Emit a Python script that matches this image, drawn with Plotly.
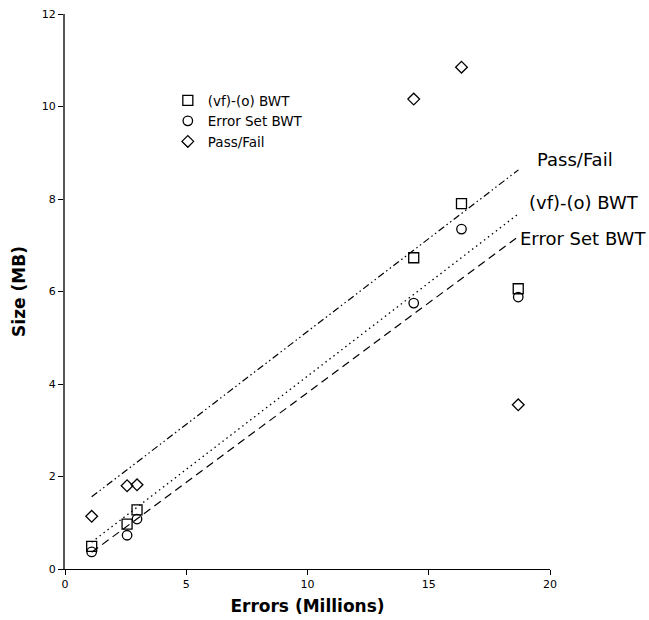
import plotly.graph_objects as go

# ---- data ----
errors_x = [1.1, 2.56, 2.97, 14.38, 16.35, 18.69]
vfo_bwt = [0.49, 0.97, 1.28, 6.73, 7.90, 6.06]
error_set_bwt = [0.37, 0.73, 1.08, 5.75, 7.35, 5.88]
pass_fail = [1.14, 1.80, 1.82, 10.16, 10.85, 3.55]

fit_x = [1.1, 18.7]
pass_fail_fit = [1.56, 8.63]
vfo_fit = [0.58, 7.68]
error_set_fit = [0.36, 7.19]

x_ticks = [0, 5, 10, 15, 20]
y_ticks = [0, 2, 4, 6, 8, 10, 12]

FONT = "DejaVu Sans"

fig = go.Figure()

# fitted lines
fig.add_trace(go.Scatter(x=fit_x, y=pass_fail_fit, mode="lines", showlegend=False,
                         line=dict(color="black", width=1.2, dash="7px,3px,1.5px,3px,1.5px,3px")))
fig.add_trace(go.Scatter(x=fit_x, y=vfo_fit, mode="lines", showlegend=False,
                         line=dict(color="black", width=1.3, dash="1.5px,3.5px")))
fig.add_trace(go.Scatter(x=fit_x, y=error_set_fit, mode="lines", showlegend=False,
                         line=dict(color="black", width=1.2, dash="8px,5px")))

# scatter series
fig.add_trace(go.Scatter(x=errors_x, y=vfo_bwt, mode="markers", name="(vf)-(o) BWT",
                         marker=dict(symbol="square-open", size=10, color="black",
                                     line=dict(width=1.3, color="black"))))
fig.add_trace(go.Scatter(x=errors_x, y=error_set_bwt, mode="markers", name="Error Set BWT",
                         marker=dict(symbol="circle-open", size=9.5, color="black",
                                     line=dict(width=1.3, color="black"))))
fig.add_trace(go.Scatter(x=errors_x, y=pass_fail, mode="markers", name="Pass/Fail",
                         marker=dict(symbol="diamond-open", size=9, color="black",
                                     line=dict(width=1.3, color="black"))))

# line labels
labels = [("Pass/Fail", 19.4, 8.85), ("(vf)-(o) BWT", 19.05, 7.92), ("Error Set BWT", 18.68, 7.14)]
for txt, lx, ly in labels:
    fig.add_annotation(x=lx, y=ly, text=txt, showarrow=False, xanchor="left", yanchor="middle",
                       font=dict(family=FONT, size=18, color="black"))

fig.update_layout(
    width=649, height=620,
    margin=dict(l=65, r=99, t=14, b=51),
    plot_bgcolor="white", paper_bgcolor="white",
    font=dict(family=FONT, color="black"),
    legend=dict(x=0.212, y=0.872, xanchor="left", yanchor="top",
                bgcolor="rgba(0,0,0,0)", font=dict(family=FONT, size=13.5, color="black"),
                itemwidth=30, tracegroupgap=0),
    xaxis=dict(range=[0, 20], tickvals=x_ticks, ticktext=[str(v) for v in x_ticks],
               showgrid=False, zeroline=False, showline=True, linecolor="black", linewidth=1,
               ticks="outside", ticklen=5, tickcolor="black", automargin=False,
               tickfont=dict(family=FONT, size=11),
               title=dict(text="<b>Errors (Millions)</b>", font=dict(family=FONT, size=17), standoff=9)),
    yaxis=dict(range=[0, 12], tickvals=y_ticks, ticktext=[str(v) for v in y_ticks],
               showgrid=False, zeroline=False, showline=True, linecolor="#555555", linewidth=2,
               ticks="outside", ticklen=5, tickcolor="black", automargin=False,
               tickfont=dict(family=FONT, size=11),
               title=dict(text="<b>Size (MB)</b>", font=dict(family=FONT, size=17), standoff=12)),
)

fig.write_html("out.html")
